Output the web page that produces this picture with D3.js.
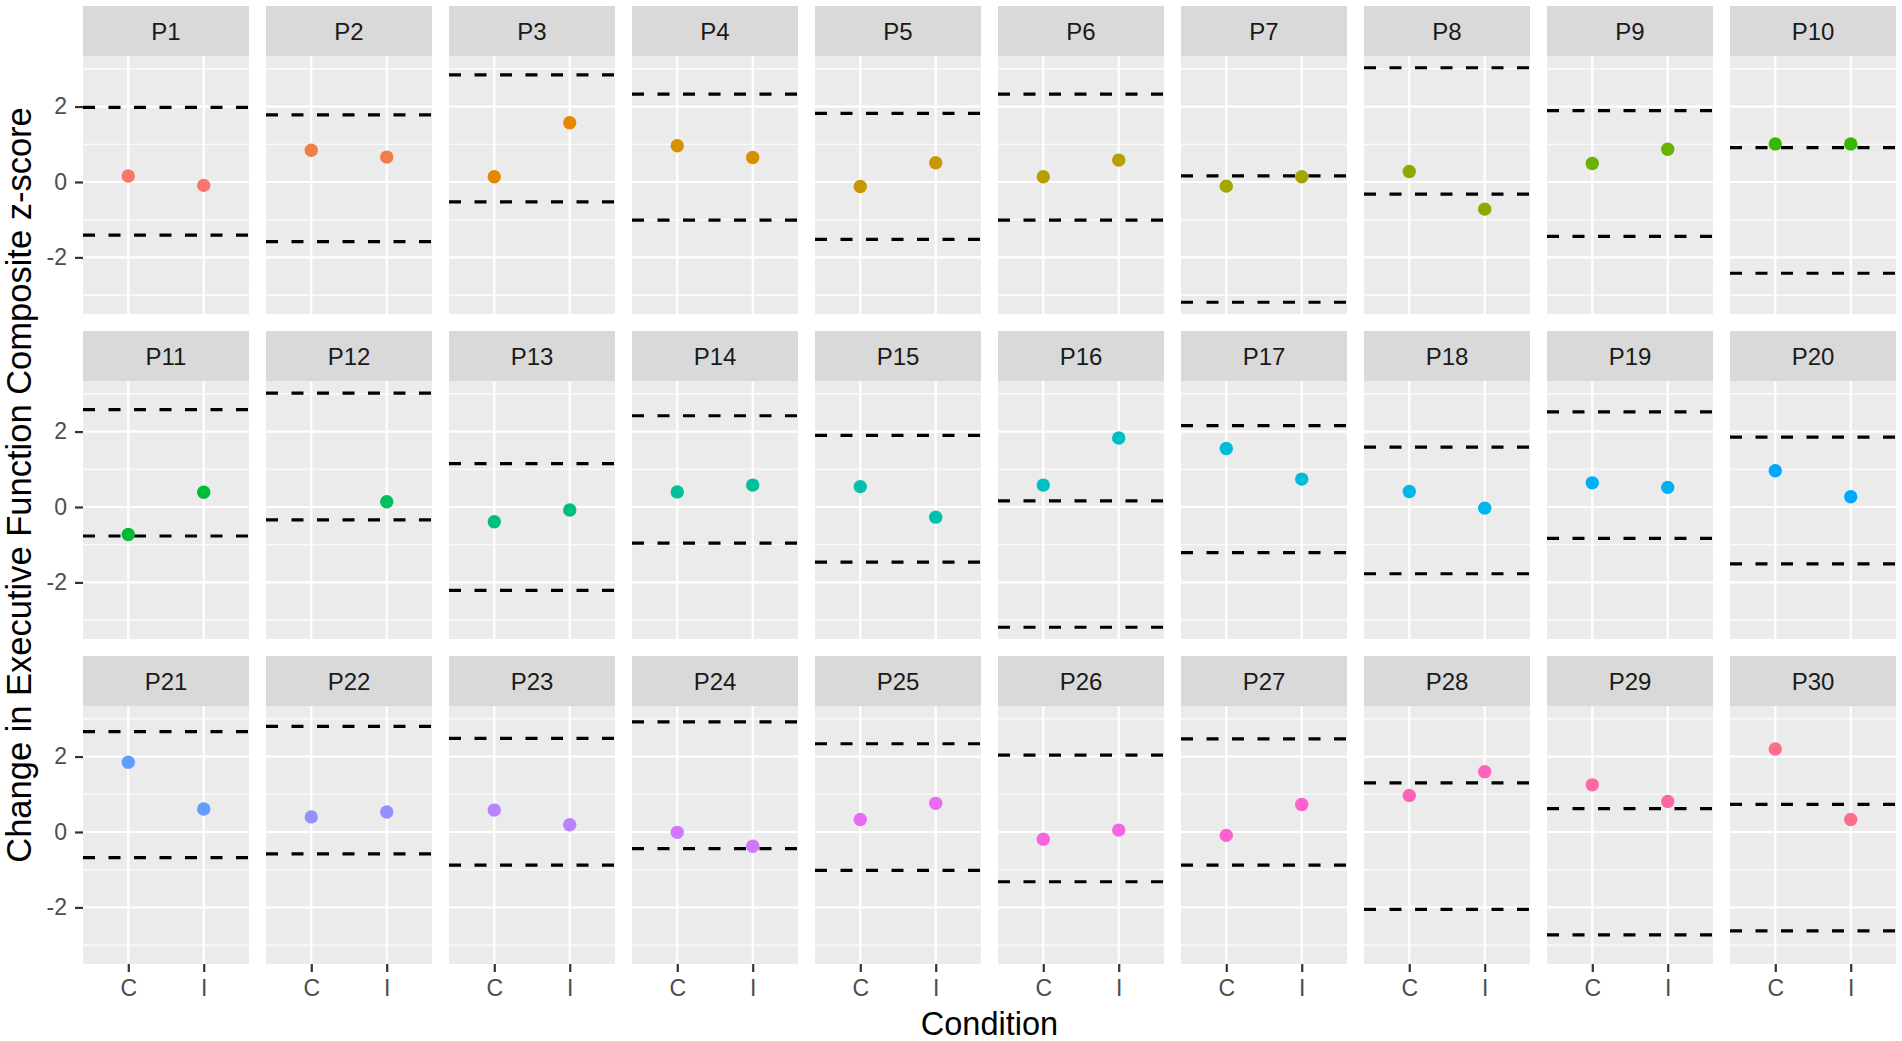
<!DOCTYPE html>
<html>
<head>
<meta charset="utf-8">
<script src="https://cdn.jsdelivr.net/npm/d3@7"></script>
<style>
  html, body { margin: 0; padding: 0; background: #ffffff; }
  svg { display: block; font-family: "Liberation Sans", Arial, Helvetica, sans-serif; }
</style>
</head>
<body>
<svg id="chart" width="1902" height="1041"></svg>
<script>
// ---------- data ----------
const participants = ["P1","P2","P3","P4","P5","P6","P7","P8","P9","P10",
  "P11","P12","P13","P14","P15","P16","P17","P18","P19","P20",
  "P21","P22","P23","P24","P25","P26","P27","P28","P29","P30"];
const conditions = ["C", "I"];
const valuesC = [0.16, 0.84, 0.14, 0.96, -0.12, 0.14, -0.11, 0.28, 0.49, 1.01,
  -0.73, null, -0.39, 0.40, 0.54, 0.58, 1.55, 0.41, 0.64, 0.96,
  1.85, 0.40, 0.58, -0.01, 0.33, -0.19, -0.09, 0.97, 1.25, 2.20];
const valuesI = [-0.09, 0.66, 1.57, 0.65, 0.51, 0.58, 0.14, -0.72, 0.87, 1.01,
  0.39, 0.14, -0.08, 0.58, -0.27, 1.83, 0.74, -0.03, 0.52, 0.27,
  0.61, 0.53, 0.19, -0.38, 0.76, 0.05, 0.73, 1.60, 0.81, 0.33];
const upperBand = [1.98, 1.78, 2.84, 2.33, 1.82, 2.33, 0.16, 3.03, 1.89, 0.91,
  2.58, 3.02, 1.15, 2.42, 1.90, 0.16, 2.16, 1.59, 2.52, 1.85,
  2.66, 2.80, 2.48, 2.92, 2.34, 2.04, 2.47, 1.30, 0.62, 0.73];
const lowerBand = [-1.41, -1.58, -0.53, -1.01, -1.52, -1.01, -3.19, -0.32, -1.44, -2.42,
  -0.77, -0.34, -2.21, -0.96, -1.46, -3.19, -1.21, -1.77, -0.83, -1.51,
  -0.68, -0.58, -0.88, -0.44, -1.02, -1.32, -0.88, -2.05, -2.73, -2.62];
const yMajorTicks = [-2, 0, 2];
const yMinorTicks = [-3, -1, 1, 3];
const xTitle = "Condition";
const yTitle = "Change in Executive Function Composite z-score";

// ---------- ggplot-like hue palette (polar LUV) ----------
function hclLuv(h, c, l) {
  const Xn = 95.047, Yn = 100.0, Zn = 108.883;
  const un = 4 * Xn / (Xn + 15 * Yn + 3 * Zn);
  const vn = 9 * Yn / (Xn + 15 * Yn + 3 * Zn);
  const hr = h * Math.PI / 180;
  const u = c * Math.cos(hr), v = c * Math.sin(hr);
  const Y = l > 8 ? Yn * Math.pow((l + 16) / 116, 3) : Yn * l / 903.3;
  const up = u / (13 * l) + un, vp = v / (13 * l) + vn;
  const X = Y * 9 * up / (4 * vp);
  const Z = Y * (12 - 3 * up - 20 * vp) / (4 * vp);
  const xx = X / 100, yy = Y / 100, zz = Z / 100;
  const r = 3.240479 * xx - 1.537150 * yy - 0.498535 * zz;
  const g = -0.969256 * xx + 1.875992 * yy + 0.041556 * zz;
  const b = 0.055648 * xx - 0.204043 * yy + 1.057311 * zz;
  const gam = t => t <= 0.0031308 ? 12.92 * t : 1.055 * Math.pow(t, 1 / 2.4) - 0.055;
  const cl = t => Math.max(0, Math.min(255, Math.round(gam(Math.max(0, t)) * 255)));
  return d3.rgb(cl(r), cl(g), cl(b)).formatHex();
}
const nP = participants.length;
const palette = participants.map((p, i) => hclLuv(15 + i * 360 / nP, 100, 65));
const color = d3.scaleOrdinal().domain(participants).range(palette);

// ---------- layout ----------
const ncol = 10;
const marginLeft = 83, marginTop = 6;
const panelW = 166, gapX = 17;
const stripH = 50, panelH = 258, gapY = 17;

const allVals = [...valuesC, ...valuesI, ...upperBand, ...lowerBand].filter(v => v != null);
const vmin = d3.min(allVals), vmax = d3.max(allVals);
const pad = (vmax - vmin) * 0.05;
const yScale = d3.scaleLinear().domain([vmin - pad, vmax + pad]).range([panelH, 0]);
const xScale = d3.scalePoint().domain(conditions).range([0, panelW]).padding(0.6);

const svg = d3.select("#chart");
const nrow = Math.ceil(nP / ncol);

participants.forEach((p, i) => {
  const col = i % ncol, row = Math.floor(i / ncol);
  const gx = marginLeft + col * (panelW + gapX);
  const gy = marginTop + row * (stripH + panelH + gapY);
  const g = svg.append("g").attr("transform", `translate(${gx},${gy})`);

  // strip
  g.append("rect").attr("x", 0).attr("y", 0).attr("width", panelW).attr("height", stripH)
    .attr("fill", "#D9D9D9");
  g.append("text").attr("x", panelW / 2).attr("y", stripH / 2 + 8.7)
    .attr("text-anchor", "middle").attr("font-size", 24).attr("fill", "#1A1A1A").text(p);

  const pg = g.append("g").attr("transform", `translate(0,${stripH})`);
  pg.append("rect").attr("width", panelW).attr("height", panelH).attr("fill", "#EBEBEB");

  // grid
  pg.selectAll("line.minor").data(yMinorTicks).join("line").attr("class", "minor")
    .attr("x1", 0).attr("x2", panelW).attr("y1", d => yScale(d)).attr("y2", d => yScale(d))
    .attr("stroke", "#ffffff").attr("stroke-width", 1.1);
  pg.selectAll("line.major").data(yMajorTicks).join("line").attr("class", "major")
    .attr("x1", 0).attr("x2", panelW).attr("y1", d => yScale(d)).attr("y2", d => yScale(d))
    .attr("stroke", "#ffffff").attr("stroke-width", 2.2);
  pg.selectAll("line.vmajor").data(conditions).join("line").attr("class", "vmajor")
    .attr("x1", d => xScale(d)).attr("x2", d => xScale(d)).attr("y1", 0).attr("y2", panelH)
    .attr("stroke", "#ffffff").attr("stroke-width", 2.2);

  // dashed bands
  pg.selectAll("line.band").data([upperBand[i], lowerBand[i]]).join("line").attr("class", "band")
    .attr("x1", 0).attr("x2", panelW).attr("y1", d => yScale(d)).attr("y2", d => yScale(d))
    .attr("stroke", "#000000").attr("stroke-width", 3.2).attr("stroke-dasharray", "12,13.5");

  // points
  const pts = [{c: "C", v: valuesC[i]}, {c: "I", v: valuesI[i]}].filter(d => d.v != null);
  pg.selectAll("circle").data(pts).join("circle")
    .attr("cx", d => xScale(d.c)).attr("cy", d => yScale(d.v)).attr("r", 6.7)
    .attr("fill", color(p));

  // y axis on first column
  if (col === 0) {
    const ax = pg.append("g").call(d3.axisLeft(yScale).tickValues(yMajorTicks).tickSize(8).tickPadding(8));
    ax.select(".domain").remove();
    ax.selectAll(".tick line").attr("stroke", "#333333").attr("stroke-width", 2.2);
    ax.selectAll(".tick text").attr("font-size", 23).attr("fill", "#4D4D4D")
      .attr("font-family", "Liberation Sans, Arial, sans-serif")
      .text(d => d < 0 ? "-" + Math.abs(d) : String(d));
  }
  // x axis on bottom row
  if (row === nrow - 1) {
    const ax = pg.append("g").attr("transform", `translate(0,${panelH})`)
      .call(d3.axisBottom(xScale).tickSize(8).tickPadding(8));
    ax.select(".domain").remove();
    ax.selectAll(".tick line").attr("stroke", "#333333").attr("stroke-width", 2.2);
    ax.selectAll(".tick text").attr("font-size", 23).attr("fill", "#4D4D4D")
      .attr("font-family", "Liberation Sans, Arial, sans-serif");
  }
});

const totalW = ncol * panelW + (ncol - 1) * gapX;
const totalH = nrow * (stripH + panelH) + (nrow - 1) * gapY;

svg.append("text").attr("x", marginLeft + totalW / 2).attr("y", 1035)
  .attr("text-anchor", "middle").attr("font-size", 32.5).attr("fill", "#000").text(xTitle);
svg.append("text")
  .attr("transform", `translate(31,${marginTop + totalH / 2}) rotate(-90)`)
  .attr("text-anchor", "middle").attr("font-size", 34.5).attr("fill", "#000").text(yTitle);
</script>
</body>
</html>
